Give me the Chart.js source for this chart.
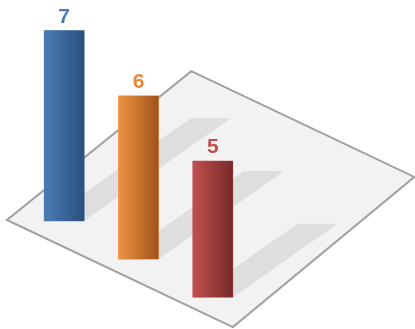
<!DOCTYPE html>
<html>
<head>
<meta charset="utf-8">
<script src="https://cdn.jsdelivr.net/npm/chart.js@4"></script>
<style>
  html, body { margin: 0; padding: 0; background: #ffffff; }
  #wrap { width: 415px; height: 329px; }
</style>
</head>
<body>
<div id="wrap"><canvas id="barChart"></canvas></div>
<script>
const categories = ["A", "B", "C"];
const values = [7, 6, 5];
const labelColors = ['#4a7ebb', '#e8883a', '#c0504d'];
const gradStops = [
  ['#4a7bb7', '#2c4f7b'],
  ['#ec9443', '#a0521a'],
  ['#c0504d', '#752a2a']
];

// each bar stands a bit further "forward" on the plane
const depthStep = 1.4;

const ctxEl = document.getElementById("barChart");

// top / bottom pixel of a floating bar, whichever way round chart.js stores them
const barEdges = (bar) => ({
  top: Math.min(bar.y, bar.base),
  bottom: Math.max(bar.y, bar.base),
  left: bar.x - bar.width / 2,
  right: bar.x + bar.width / 2
});

const planePlugin = {
  id: 'plane',
  beforeDatasetsDraw(chart) {
    const ctx = chart.ctx;
    const xs = chart.scales.x, ys = chart.scales.y;
    const P = (ix, v) => [xs.getPixelForValue(ix), ys.getPixelForValue(v)];
    const corners = [P(-0.77, 0.04), P(1.71, 5.51), P(4.71, 1.62), P(2.27, -3.9)];
    ctx.save();
    ctx.beginPath();
    corners.forEach((c, i) => i ? ctx.lineTo(c[0], c[1]) : ctx.moveTo(c[0], c[1]));
    ctx.closePath();
    ctx.fillStyle = '#f2f2f2';
    ctx.fill();
    ctx.lineWidth = 2;
    ctx.strokeStyle = '#a0a0a0';
    ctx.stroke();

    // shadows cast by the bars onto the plane
    ctx.fillStyle = '#dedede';
    chart.getDatasetMeta(0).data.forEach((bar) => {
      const e = barEdges(bar);
      const h = e.bottom - e.top;
      const dx = 0.77 * h, dy = -0.54 * h;
      ctx.beginPath();
      ctx.moveTo(e.left, e.bottom);
      ctx.lineTo(e.right, e.bottom);
      ctx.lineTo(e.right + dx, e.bottom + dy);
      ctx.lineTo(e.left + dx, e.bottom + dy);
      ctx.closePath();
      ctx.fill();
    });
    ctx.restore();
  },
  afterDatasetsDraw(chart) {
    const ctx = chart.ctx;
    const meta = chart.getDatasetMeta(0);
    ctx.save();
    // left-to-right shading on each bar
    meta.data.forEach((bar, i) => {
      const e = barEdges(bar);
      const g = ctx.createLinearGradient(e.left, 0, e.right, 0);
      g.addColorStop(0, gradStops[i][0]);
      g.addColorStop(1, gradStops[i][1]);
      ctx.fillStyle = g;
      ctx.fillRect(e.left, e.top, e.right - e.left, e.bottom - e.top);
    });
    ctx.font = 'bold 21px "Liberation Sans", Arial, sans-serif';
    ctx.textAlign = 'center';
    ctx.textBaseline = 'alphabetic';
    meta.data.forEach((bar, i) => {
      const e = barEdges(bar);
      ctx.fillStyle = labelColors[i];
      ctx.fillText(String(values[i]), bar.x, e.top - 8);
    });
    ctx.restore();
  }
};

const barData = {
  labels: categories,
  datasets: [{
    data: values.map((v, i) => [-i * depthStep, -i * depthStep + v]),
    backgroundColor: gradStops.map(g => g[0]),
    borderWidth: 0,
    barThickness: 40,
    clip: false
  }]
};

const barOptions = {
  responsive: true,
  maintainAspectRatio: false,
  animation: false,
  layout: { padding: { left: 27, right: 165, top: 0, bottom: 0 } },
  scales: {
    x: { display: false, offset: true },
    y: { display: false, min: -3.97, max: 8.125 }
  },
  plugins: {
    legend: { display: false },
    tooltip: { enabled: false }
  }
};

new Chart(ctxEl, { type: 'bar', data: barData, options: barOptions, plugins: [planePlugin] });
</script>
</body>
</html>
